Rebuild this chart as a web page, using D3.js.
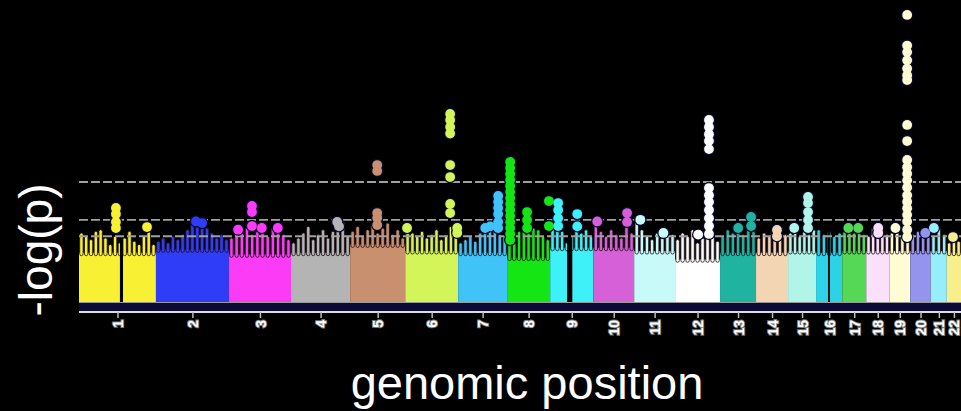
<!DOCTYPE html>
<html><head><meta charset="utf-8">
<script src="https://cdn.jsdelivr.net/npm/d3@7"></script>
<style>html,body{margin:0;padding:0;background:#000;}svg{display:block}</style>
</head><body>
<svg id="chart" width="961" height="411"></svg>
<script>
// ---- data ----
const chromosomes = ["1","2","3","4","5","6","7","8","9","10","11","12","13","14","15","16","17","18","19","20","21","22"];
const chromLengthMb = [250,237,202,192,179,172,159,140,140,133,133,146,117,104,91,85,78,75,68,67,52,46];
const chromColors = ["#f8f032","#2f3cf8","#fb3bf5","#b4b4b4","#c8906e","#d4f55a","#40c4f8","#14e614","#3ef0f8","#d660d8","#c8fafa","#ffffff","#20b4a0","#f3d5b4","#b0f5e8","#2ed2e6","#55d855","#fbe0fb","#fffbd2","#9494ee","#95eef8","#f8ee8c"];
// -log10(p) level below which SNPs are dense (solid band)
const bulkLevel = [3.0,3.2,2.9,3.0,3.5,3.1,3.0,2.7,3.3,3.3,3.1,2.6,3.0,3.0,3.1,3.0,3.1,3.1,3.1,3.1,3.1,3.0];
// tops of SNP columns above the dense band, evenly spread along each chromosome
const columnTops = [
  [4.2,4.0,3.8,4.3,4.4,3.9,3.5,4.0,3.6,3.9,4.3,3.7,3.5,4.0,4.4,3.5],
  [3.7,3.9,3.6,4.0,3.8,4.1,4.4,4.8,4.6,4.9,4.5,4.2,3.9,4.1,3.8],
  [3.9,4.4,4.2,4.5,4.1,4.3,4.6,4.0,4.5,4.4,4.1,3.8],
  [3.6,3.9,4.2,4.6,3.8,4.1,4.4,3.9,4.3,4.7,4.9,4.0],
  [4.3,4.6,4.0,4.4,4.7,4.2,4.5,4.8,4.1,4.4,3.9],
  [4.5,4.2,4.0,4.3,3.9,4.1,4.4,3.8,4.0,4.6,4.2],
  [3.6,3.8,4.0,3.7,4.2,4.6,4.9,4.4,4.1,4.0],
  [4.0,3.6,4.3,4.6,4.2,4.5,4.4,4.0,3.8],
  [4.5,4.9,4.3,3.6,4.0,4.6,4.2,4.4,4.0],
  [4.8,4.3,4.0,4.4,4.1,3.9,4.6,4.2],
  [4.9,4.4,4.0,3.8,4.2,3.9,4.4,4.1],
  [3.8,4.2,4.0,4.4,3.6,3.9,4.3,4.0,3.7],
  [4.0,4.4,4.2,4.7,4.1,4.6,4.3],
  [3.9,4.2,4.0,4.3,4.6,4.1],
  [4.2,4.5,4.0,4.3,4.1,4.4],
  [4.4,4.1,4.3,4.0,4.2],
  [4.3,4.5,4.2,4.5,4.1],
  [4.0,4.5,4.2,4.4,4.1],
  [4.2,4.4,4.0,4.1],
  [4.1,4.3,4.4,4.0],
  [4.0,4.5,4.1],
  [3.6,3.9,3.7]
];
// centromere gaps [chromosome, startMb, endMb]
const centromereGaps = [["1",133,143],["9",55,72],["16",39,45]];
// individual strong SNPs [chromosome, positionMb, -log10 p]
const hits = [
  ["1",120,5.72],["1",120,5.35],["1",120,4.87],["1",120,4.5],["1",221,4.56],
  ["2",130,4.9],["2",150,4.8],
  ["3",75,5.84],["3",75,5.47],["3",75,4.62],["3",107,4.5],["3",159,4.5],["3",30,4.4],
  ["4",150,4.87],["4",156,4.6],
  ["5",88,8.33],["5",88,7.97],["5",88,5.41],["5",88,5.11],["5",88,4.68],
  ["6",146,11.44],["6",146,11.07],["6",146,10.64],["6",146,10.25],["6",146,8.33],["6",146,7.6],["6",146,5.96],["6",146,5.41],["6",169,4.5],["6",169,4.2],["6",6,4.5],
  ["7",130,6.45],["7",130,6.08],["7",130,5.72],["7",130,5.35],["7",130,4.87],["7",130,4.5],["7",88,4.5],["7",104,4.6],
  ["8",10,8.52],["8",10,8.15],["8",10,7.79],["8",10,7.42],["8",10,7.06],["8",10,6.69],["8",10,6.33],["8",10,5.96],["8",10,5.6],["8",10,5.23],["8",10,4.87],["8",10,4.5],["8",10,4.14],["8",10,3.77],
  ["8",65,5.47],["8",65,4.99],["8",65,4.5],["8",136,6.14],["8",136,4.62],
  ["9",26,6.02],["9",26,5.6],["9",26,5.1],["9",26,4.62],["9",88,5.35],["9",88,4.6],
  ["10",110,5.41],["10",110,4.87],["10",13,4.9],
  ["11",20,5.0],["11",95,4.2],
  ["12",110,11.07],["12",110,10.64],["12",110,10.2],["12",110,9.8],["12",110,9.3],
  ["12",110,6.93],["12",110,6.5],["12",110,6.08],["12",110,5.6],["12",110,5.1],["12",110,4.62],["12",110,4.14],["12",75,4.1],
  ["13",101,5.17],["13",101,4.62],["13",59,4.5],
  ["14",68,4.38],["14",68,4.0],
  ["15",65,6.39],["15",65,6.02],["15",65,5.47],["15",65,4.99],["15",65,4.5],["15",20,4.5],
  ["17",20,4.5],["17",52,4.5],
  ["18",39,4.5],["18",39,4.2],
  ["19",58,17.46],["19",58,15.6],["19",58,15.2],["19",58,14.7],["19",58,14.2],["19",58,13.8],["19",58,13.5],
  ["19",58,10.77],["19",58,9.79],
  ["19",58,8.64],["19",58,8.2],["19",58,7.8],["19",58,7.4],["19",58,6.96],["19",58,6.5],["19",58,6.1],["19",58,5.7],["19",58,5.3],["19",58,4.9],["19",58,4.4],["19",58,3.95],["19",20,4.5],
  ["20",49,4.2],
  ["21",10,4.5],
  ["22",20,3.95]
];
const thresholds = [7.3, 5, 4];
const yLabel = "-log(p)";
const xLabel = "genomic position";

// ---- layout ----
const svg = d3.select("#chart");
const W = 961, H = 411;
svg.append("rect").attr("width", W).attr("height", H).attr("fill", "#000");

const starts = [];
let acc = 0;
chromLengthMb.forEach(l => { starts.push(acc); acc += l; });
const total = acc;
const idx = c => chromosomes.indexOf(c);

const x = d3.scaleLinear().domain([0, total]).range([79, 961]);
const y = d3.scaleLinear().domain([0, 18.37]).range([302, 0]);

const plot = svg.append("g");
plot.append("clipPath").attr("id", "clip").append("rect").attr("x", 0).attr("y", 0).attr("width", W).attr("height", 312);
const g = plot.append("g").attr("clip-path", "url(#clip)");

// dark band below the dense region
g.append("rect").attr("x", x(0)).attr("y", y(0) + 1).attr("width", W - x(0)).attr("height", 8).attr("fill", "#0b0b36");

// dense SNP bands
g.selectAll("rect.bulk").data(chromosomes).join("rect")
  .attr("class", "bulk")
  .attr("x", (c, i) => x(starts[i]))
  .attr("width", (c, i) => x(starts[i] + chromLengthMb[i]) - x(starts[i]))
  .attr("y", (c, i) => y(bulkLevel[i]))
  .attr("height", (c, i) => y(0) - y(bulkLevel[i]))
  .attr("fill", (c, i) => chromColors[i]);

// columns of SNPs above the band
const cols = [];
columnTops.forEach((tops, i) => {
  tops.forEach((v, j) => {
    cols.push({ i, pos: starts[i] + (j + 0.5) / tops.length * chromLengthMb[i], v });
  });
});
g.selectAll("rect.col").data(cols).join("rect")
  .attr("class", "col")
  .attr("x", d => x(d.pos) - 1.7)
  .attr("width", 3.4)
  .attr("y", d => y(d.v))
  .attr("height", d => y(bulkLevel[d.i]) - y(d.v) + 3)
  .attr("rx", 1.7)
  .attr("fill", d => chromColors[d.i])
  .attr("stroke", "#201018").attr("stroke-width", 0.8);

// centromere gaps
g.selectAll("rect.gap").data(centromereGaps).join("rect")
  .attr("x", d => x(starts[idx(d[0])] + d[1]))
  .attr("width", d => x(starts[idx(d[0])] + d[2]) - x(starts[idx(d[0])] + d[1]))
  .attr("y", d => y(6))
  .attr("height", d => y(0) - y(6))
  .attr("fill", "#000");

// threshold lines
g.selectAll("line.thr").data(thresholds).join("line")
  .attr("x1", x(0)).attr("x2", W)
  .attr("y1", d => y(d)).attr("y2", d => y(d))
  .attr("stroke", "#a0a0a0").attr("stroke-width", 1.8)
  .attr("stroke-dasharray", "9,3");

// strong SNPs: dark halo layer first, colour layer on top so stacked points merge
g.selectAll("circle.halo").data(hits).join("circle")
  .attr("class", "halo")
  .attr("cx", d => x(starts[idx(d[0])] + d[1]))
  .attr("cy", d => y(d[2]))
  .attr("r", 6.2)
  .attr("fill", "#0a0a2e");
g.selectAll("circle.hit").data(hits).join("circle")
  .attr("class", "hit")
  .attr("cx", d => x(starts[idx(d[0])] + d[1]))
  .attr("cy", d => y(d[2]))
  .attr("r", 4.9)
  .attr("fill", d => chromColors[idx(d[0])]);

// base line
svg.append("line").attr("x1", x(0)).attr("x2", W).attr("y1", y(0) + 0.5).attr("y2", y(0) + 0.5)
  .attr("stroke", "#9a9a9a").attr("stroke-width", 1);

// x axis
const centers = chromosomes.map((c, i) => starts[i] + chromLengthMb[i] / 2);
const xAxis = d3.axisBottom(x).tickValues(centers).tickSize(6).tickFormat((d, i) => chromosomes[i]);
const ax = svg.append("g").attr("transform", "translate(0,312)").call(xAxis);
ax.attr("font-size", null).attr("font-family", null);
ax.select(".domain").attr("stroke", "#dcdcdc").attr("stroke-width", 2.2).attr("d", `M${x(0)},0H${W}`);
ax.selectAll(".tick line").attr("stroke", "#bbb").attr("stroke-width", 1.5);
ax.selectAll(".tick text")
  .attr("fill", "#fff")
  .style("font-family", "'Liberation Sans', Arial, sans-serif")
  .style("font-weight", "bold")
  .style("font-size", "14px")
  .attr("stroke", "#7a7a7a").attr("stroke-width", 2).attr("paint-order", "stroke")
  .attr("text-anchor", "end")
  .attr("transform", "rotate(-90)")
  .attr("x", -8).attr("y", 0).attr("dy", "0.36em");

// axis titles
svg.append("text").attr("transform", "translate(52,250) rotate(-90)")
  .attr("text-anchor", "middle").attr("fill", "#fff")
  .style("font-family", "'Liberation Sans', Arial, sans-serif").style("font-size", "46px")
  .text(yLabel);
svg.append("text").attr("x", 527).attr("y", 399)
  .attr("text-anchor", "middle").attr("fill", "#fff")
  .style("font-family", "'Liberation Sans', Arial, sans-serif").style("font-size", "47px")
  .text(xLabel);
</script>
</body></html>
